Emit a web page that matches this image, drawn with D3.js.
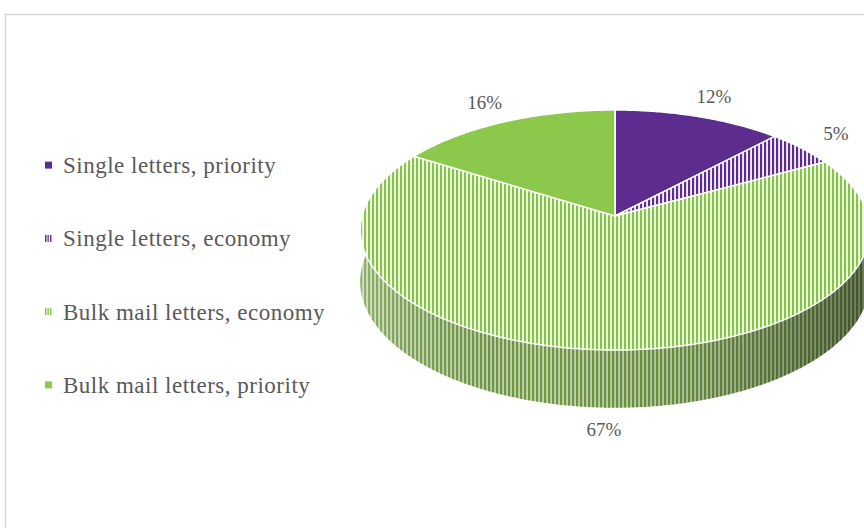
<!DOCTYPE html>
<html>
<head>
<meta charset="utf-8">
<script src="https://cdn.jsdelivr.net/npm/d3@7"></script>
<style>
  body { margin: 0; background: #fff; }
  svg { display: block; }
</style>
</head>
<body>
<div id="main"></div>
<script>
const ctx = {
    w: 864,
    h: 528
};

// data
const categories = ["Single letters, priority", "Single letters, economy", "Bulk mail letters, economy", "Bulk mail letters, priority"];
const values = [12, 5, 67, 16];
const labels = ["12%", "5%", "67%", "16%"];
const baseColors = ["#5c2d8e", "#5c2d8e", "#8cc84b", "#8cc84b"];
const striped = [false, true, true, false];

// pie geometry (screen space)
const geo = { cx: 615, cy: 216, rx: 253, ry: 118.4, p: 0.1166, depth: 51 };

function proj(theta, s, drop) {
    const u = s * Math.sin(theta), v = s * Math.cos(theta);
    const k = 1 / (1 + geo.p * v);
    return [geo.cx + geo.rx * u * k, geo.cy - geo.ry * v * k + (drop || 0) * k];
}

function arcPoints(a0, a1, drop) {
    const n = Math.max(2, Math.ceil((a1 - a0) / 0.01));
    return d3.range(n + 1).map(i => proj(a0 + (a1 - a0) * i / n, 1, drop));
}

function createViz() {
    const svg = d3.select("#main").append("svg")
        .attr("width", ctx.w)
        .attr("height", ctx.h);

    const defs = svg.append("defs");

    // stripe patterns
    function stripes(id, w, bar, bg, fg) {
        const pat = defs.append("pattern")
            .attr("id", id)
            .attr("patternUnits", "userSpaceOnUse")
            .attr("width", w).attr("height", 10);
        pat.append("rect").attr("width", w).attr("height", 10).attr("fill", bg);
        pat.append("rect").attr("width", bar).attr("height", 10).attr("fill", fg);
    }
    stripes("stripeGreen", 4, 2.1, "#f3f9ec", "#86c445");
    stripes("stripePurple", 4, 2.1, "#f1ebf6", "#5c2d8e");
    stripes("sideGreen", 4, 2.2, "#ced6c6", "#6f9f3b");
    stripes("legGreen", 2.5, 1.4, "#ffffff", "#86c445");
    stripes("legPurple", 2.5, 1.4, "#ffffff", "#5c2d8e");

    const shade = defs.append("linearGradient")
        .attr("id", "sideShade")
        .attr("gradientUnits", "userSpaceOnUse")
        .attr("x1", geo.cx - geo.rx).attr("x2", geo.cx + geo.rx)
        .attr("y1", 0).attr("y2", 0);
    shade.append("stop").attr("offset", 0).attr("stop-color", "#fff").attr("stop-opacity", 0.2);
    shade.append("stop").attr("offset", 0.35).attr("stop-color", "#000").attr("stop-opacity", 0.02);
    shade.append("stop").attr("offset", 0.65).attr("stop-color", "#000").attr("stop-opacity", 0.12);
    shade.append("stop").attr("offset", 1).attr("stop-color", "#000").attr("stop-opacity", 0.45);

    // chart frame
    svg.append("rect")
        .attr("x", 5.5).attr("y", 14.5)
        .attr("width", 920).attr("height", 600)
        .attr("fill", "#fff")
        .attr("stroke", "#d6d6d6")
        .attr("stroke-width", 1.5);

    const arcs = d3.pie().sort(null).value(d => d)(values);
    const line = d3.line();

    const pieG = svg.append("g");

    const sidePath = d => {
        const top = arcPoints(d.startAngle, d.endAngle, 0);
        const bot = arcPoints(d.startAngle, d.endAngle, geo.depth).reverse();
        return line(top.concat(bot)) + "Z";
    };

    // side walls first
    pieG.selectAll("path.side")
        .data(arcs)
        .enter().append("path")
        .attr("class", "side")
        .attr("d", sidePath)
        .attr("fill", (d, i) => striped[i] ? (i < 2 ? "url(#stripePurple)" : "url(#sideGreen)") : d3.color(baseColors[i]).darker(0.6));

    pieG.selectAll("path.shade")
        .data(arcs)
        .enter().append("path")
        .attr("class", "shade")
        .attr("d", sidePath)
        .attr("fill", "url(#sideShade)");

    // top faces
    pieG.selectAll("path.top")
        .data(arcs)
        .enter().append("path")
        .attr("class", "top")
        .attr("d", d => line([[geo.cx, geo.cy]].concat(arcPoints(d.startAngle, d.endAngle, 0))) + "Z")
        .attr("fill", (d, i) => striped[i] ? (i < 2 ? "url(#stripePurple)" : "url(#stripeGreen)") : baseColors[i])
        .attr("stroke", "#ffffff")
        .attr("stroke-width", 1.5)
        .attr("stroke-linejoin", "round");

    // data labels
    pieG.selectAll("text.lbl")
        .data(arcs)
        .enter().append("text")
        .attr("class", "lbl")
        .attr("x", d => proj((d.startAngle + d.endAngle) / 2, 1.2, 0)[0])
        .attr("y", d => {
            const m = (d.startAngle + d.endAngle) / 2;
            return proj(m, 1.2, Math.cos(m) < 0 ? geo.depth * 0.85 : 0)[1];
        })
        .attr("text-anchor", "middle")
        .attr("dominant-baseline", "middle")
        .attr("font-family", "'Liberation Serif', 'DejaVu Serif', serif")
        .attr("font-size", 19)
        .attr("fill", "#595959")
        .text((d, i) => labels[i]);

    // legend
    const y = d3.scaleBand().domain(categories).range([129, 422]);
    const legend = svg.append("g")
        .selectAll("g")
        .data(categories)
        .enter().append("g")
        .attr("transform", d => `translate(0,${y(d) + y.bandwidth() / 2})`);

    legend.append("rect")
        .attr("x", 45).attr("y", -4)
        .attr("width", 7).attr("height", 7)
        .attr("fill", (d, i) => striped[i] ? (i < 2 ? "url(#legPurple)" : "url(#legGreen)") : baseColors[i]);

    legend.append("text")
        .attr("x", 63)
        .attr("y", 0)
        .attr("dy", "0.32em")
        .attr("font-family", "'Liberation Serif', 'DejaVu Serif', serif")
        .attr("font-size", 23)
        .attr("letter-spacing", 0.5)
        .attr("fill", "#595959")
        .text(d => d);
}

createViz();
</script>
</body>
</html>
